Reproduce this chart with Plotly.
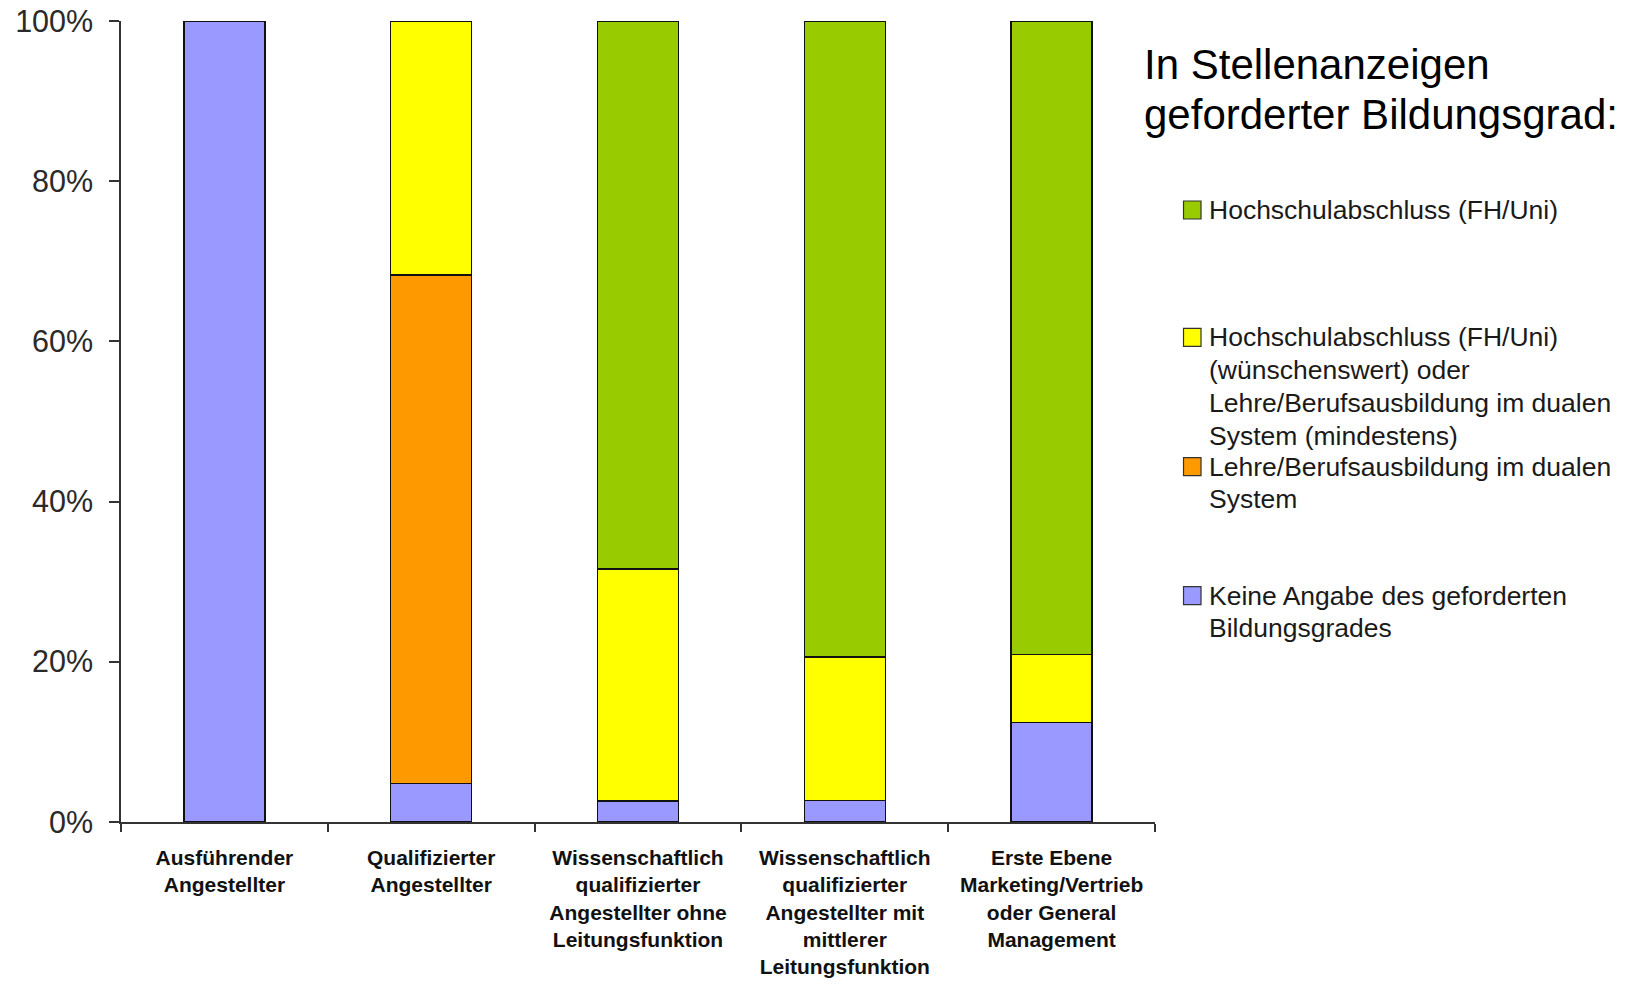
import plotly.graph_objects as go

categories = [
    "Ausführender<br>Angestellter",
    "Qualifizierter<br>Angestellter",
    "Wissenschaftlich<br>qualifizierter<br>Angestellter ohne<br>Leitungsfunktion",
    "Wissenschaftlich<br>qualifizierter<br>Angestellter mit<br>mittlerer<br>Leitungsfunktion",
    "Erste Ebene<br>Marketing/Vertrieb<br>oder General<br>Management",
]

keine_angabe = [100.0, 4.8, 2.6, 2.7, 12.4]
lehre = [0.0, 63.5, 0.0, 0.0, 0.0]
hochschule_oder_lehre = [0.0, 31.7, 29.0, 17.9, 8.5]
hochschule = [0.0, 0.0, 68.4, 79.4, 79.1]

series_names = [
    "Keine Angabe des geforderten<br>Bildungsgrades",
    "Lehre/Berufsausbildung im dualen<br>System",
    "Hochschulabschluss (FH/Uni)<br>(wünschenswert) oder<br>Lehre/Berufsausbildung im dualen<br>System (mindestens)",
    "Hochschulabschluss (FH/Uni)",
]
series_values = [keine_angabe, lehre, hochschule_oder_lehre, hochschule]
series_colors = ["#9999FF", "#FF9900", "#FFFF00", "#99CC00"]

y_tickvals = [0, 20, 40, 60, 80, 100]
y_ticktext = ["0%", "20%", "40%", "60%", "80%", "100%"]

title_lines = ["In Stellenanzeigen", "geforderter Bildungsgrad:"]

FONT = "Liberation Sans, Arial, sans-serif"
W, H = 1632, 987
OFF = 8  # page body offset of the rendered html
PL, PR, PT, PB = 121.3, 1155.0, 20.7, 822.0  # target plot-area edges on screen


def px(x):
    return (x - PL) / (PR - PL)


def py(y):
    return (PB - y) / (PB - PT)


fig = go.Figure()
for name, vals, col in zip(series_names, series_values, series_colors):
    fig.add_trace(go.Bar(
        x=categories, y=vals, name=name.replace("<br>", " "),
        marker=dict(color=col, line=dict(color="#111111", width=1.5)),
        showlegend=False,
    ))

shapes = []
annotations = []

# custom Excel-style legend (top-to-bottom: reversed stacking order)
legend_baselines = [219.3, 346.7, 476.0, 605.0]
LEG_SIZE = 26.5
LINE_STEP = 32.8
order = [3, 2, 1, 0]
for base, idx in zip(legend_baselines, order):
    cap_c = base - 0.36 * LEG_SIZE
    shapes.append(dict(
        type="rect", xref="paper", yref="paper",
        x0=px(1183.5), x1=px(1201), y0=py(cap_c + 9), y1=py(cap_c - 9),
        fillcolor=series_colors[idx], line=dict(color="#333333", width=1.2),
    ))
    for k, line in enumerate(series_names[idx].split("<br>")):
        annotations.append(dict(
            xref="paper", yref="paper", x=px(1206.5), y=py(cap_c + k * LINE_STEP),
            xanchor="left", yanchor="middle", align="left", showarrow=False,
            text=line, font=dict(family=FONT, size=LEG_SIZE, color="#1a1a1a"),
        ))

TITLE_SIZE = 42
for base, line in zip([79.0, 129.3], title_lines):
    annotations.append(dict(
        xref="paper", yref="paper", x=px(1142), y=py(base - 0.36 * TITLE_SIZE),
        xanchor="left", yanchor="middle", align="left", showarrow=False,
        text=line, font=dict(family=FONT, size=TITLE_SIZE, color="#000000"),
    ))

fig.update_layout(
    width=W, height=H,
    margin=dict(l=PL - OFF, r=W - (PR - OFF), t=PT - OFF, b=H - (PB - OFF),
                autoexpand=False),
    barmode="stack", bargap=0.608,
    plot_bgcolor="white", paper_bgcolor="white",
    shapes=shapes, annotations=annotations,
    font=dict(family=FONT, color="#222222"),
)
fig.update_yaxes(
    range=[0, 100], tickvals=y_tickvals, ticktext=y_ticktext,
    showgrid=False, zeroline=False, automargin=False,
    showline=True, linecolor="#333333", linewidth=1.5,
    ticks="outside", ticklen=10, tickcolor="#333333", tickwidth=1.5,
    ticklabelstandoff=10, ticklabeloverflow="allow",
    tickfont=dict(family=FONT, size=30.5, color="#2a2a2a"),
)
fig.update_xaxes(
    showgrid=False, showline=True, linecolor="#333333", linewidth=1.5,
    automargin=False,
    ticks="outside", ticklen=8, tickcolor="#333333", tickwidth=1.5,
    tickson="boundaries", ticklabelstandoff=16, ticklabeloverflow="allow",
    tickfont=dict(family=FONT, size=21, color="#111111", weight="bold"),
    tickangle=0,
)

fig.write_html("out.html")
